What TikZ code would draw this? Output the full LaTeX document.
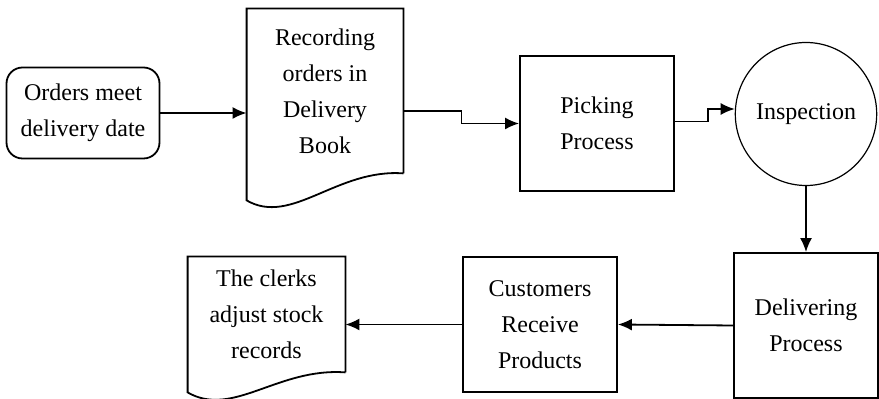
\documentclass[tikz,border=0pt]{standalone}
\usepackage{fontspec}
\setmainfont{Liberation Serif}
\usetikzlibrary{calc,shapes.geometric,arrows.meta}

\begin{document}
\begin{tikzpicture}[>={Latex[length=7pt,width=6pt]},x=0.5pt,y=-0.5pt,
    every node/.style={align=center,font=\fontsize{12}{18}\selectfont,inner sep=0pt},
    box/.style={draw,line width=0.9pt,minimum width=77pt,minimum height=67.5pt},
    docbox/.style={minimum width=78pt},
    flow/.style={->,line width=0.9pt}]
    \useasboundingbox (0,0) rectangle (879,399);
    \node[box,rounded corners=8pt,minimum width=76.5pt,minimum height=45.5pt] (start) at (83,113) {Orders meet\\delivery date};
    \node[docbox,minimum height=82pt] (rec) at (325,91) {Recording\\orders in\\Delivery\\Book};
    \node[box] (pick) at (597,123.5) {Picking\\Process};
    \node[ellipse,draw,line width=0.6pt,minimum width=66.5pt,minimum height=71.5pt] (insp) at (806,114) {Inspection};
    \node[box,minimum width=72pt,minimum height=72.5pt] (deliv) at (806,325.5) {Delivering\\Process};
    \node[box] (cust) at (540,324.5) {Customers\\Receive\\Products};
    \node[docbox,minimum width=78.5pt,minimum height=57.5pt] (clerk) at (266.5,314.5) {The clerks\\adjust stock\\records};
    % document outlines with wavy bottom
    \foreach \n/\d in {rec/27,clerk/20}
    \draw[line width=0.9pt] (\n.south east) -- (\n.north east) -- (\n.north west) -- ($(\n.south west)+(0,\d)$)
        .. controls ($(\n.south west)+(45,\d+26)$) and ($(\n.south west)+(90,-5)$) .. (\n.south east);
    \draw[flow] (start.east) -- (start.east -| rec.west);
    \draw[flow] ($(rec.east)+(0,20)$) -- ++(58,0) |- (pick.west);
    \draw[flow] ($(pick.east)+(0,-2)$) -- ++(33,0) |- ($(insp.west)+(0,-5)$);
    \draw[flow] (insp.south) -- (insp.south |- deliv.north);
    \draw[flow] (deliv.west) -- (cust.east);
    \draw[flow] (cust.west) -- (cust.west -| clerk.east);
\end{tikzpicture}
\end{document}
